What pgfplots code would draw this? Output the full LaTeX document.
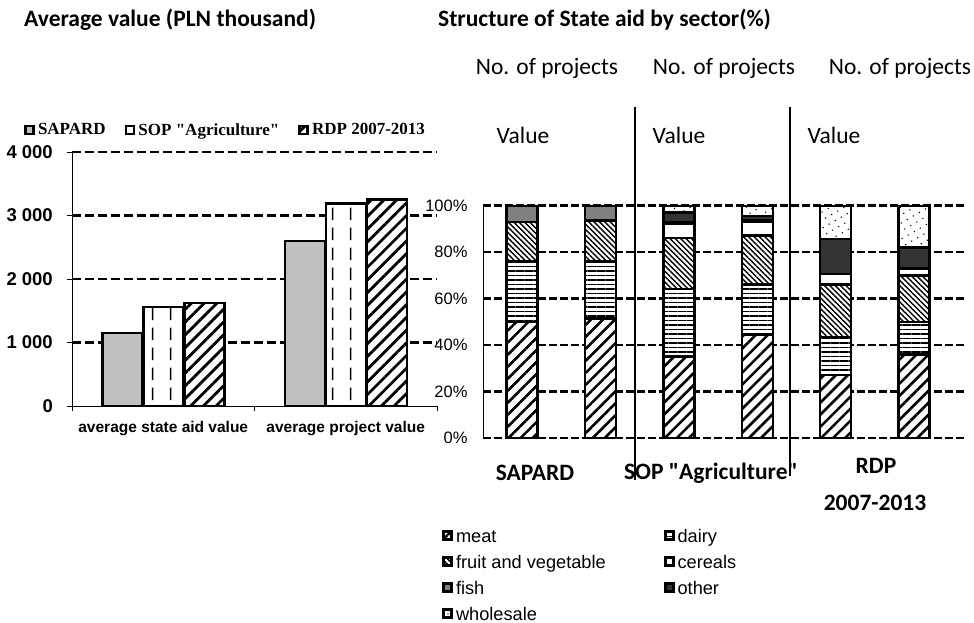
\documentclass[border=0pt]{standalone}
\usepackage{fontspec}
\setmainfont{Carlito}
\newfontfamily\arialf{Liberation Sans}
\newfontfamily\timesf{Liberation Serif}
\usepackage{pgfplots}
\usepackage{pgfplotstable}
\pgfplotsset{compat=1.18}
\usetikzlibrary{patterns,patterns.meta}

\tikzdeclarepattern{
  name=VDash,
  type=uncolored,
  bounding box={(0pt,0pt) and (18pt,20pt)},
  tile size={(18pt,20pt)},
  code={\draw[line width=1.6pt] (9pt,3pt) -- (9pt,16pt);}
}

\definecolor{sapgray}{RGB}{192,192,192}
\definecolor{fishgray}{RGB}{128,128,128}
\definecolor{othergray}{RGB}{51,51,51}

\pgfplotstableread{
x sapard sop rdp
0 1150 1560 1620
1 2600 3190 3250
}\avgtable

\pgfplotstableread{
x meat dairy fruit cereals fish other wholesale
0 50 26 17 0 7 0 0
1 51.5 24.5 17.5 0 6.5 0 0
2 35 29 22 6 1 4 3
3 44.5 21.5 21 6 0.5 2 4.5
4 27 16.5 22.5 4.5 0 15 14.5
5 36 14 20 3 0 9 18
}\sectortable

\newcommand{\ylab}[1]{{\arialf\bfseries\fontsize{18.5}{20}\selectfont #1}}

\begin{document}
\begin{tikzpicture}
\path[use as bounding box] (0pt,0pt) rectangle (974pt,-622pt);

% ---------- left chart ----------
\begin{axis}[
  at={(72pt,-406pt)}, anchor=south west, scale only axis,
  width=365pt, height=254pt,
  xmin=-0.5, xmax=1.5, ymin=0, ymax=4000,
  axis x line*=bottom, axis y line*=left,
  axis line style={-, line width=0.8pt},
  ybar, bar width=40pt,
  xtick={-0.5,0.5,1.5},
  x tick label as interval,
  xticklabels={average state aid value, average project value},
  x tick label style={font=\arialf\bfseries\fontsize{15.5}{18}\selectfont, yshift=-7pt},
  ytick={0,1000,2000,3000,4000},
  yticklabels={\ylab{0},\ylab{1 000},\ylab{2 000},\ylab{3 000},\ylab{4 000}},
  extra y ticks={1000,2000,3000,4000}, extra y tick labels={},
  extra y tick style={grid=major, major tick length=0pt},
  y tick label style={anchor=east, inner sep=0pt, xshift=-14pt},
  tick align=outside, major tick length=5pt,
  tick style={line width=0.8pt, black},
  major grid style={line width=2.3pt, dash pattern=on 9pt off 4pt, black},
  legend columns=3,
  legend cell align=left,
  legend style={at={(-0.1315,1.087)}, anchor=west, draw=none, fill=none,
    font=\timesf\bfseries\fontsize{17}{18}\selectfont, inner sep=0pt,
    nodes={inner sep=0pt},
    /tikz/every odd column/.append style={column sep=3pt},
    /tikz/every even column/.append style={column sep=19pt}},
  legend image code/.code={\draw[#1, line width=2.8pt] (0pt,-4pt) rectangle (8pt,4pt);},
]
\addplot[fill=sapgray, draw=black, line width=2.5pt, bar shift=-41pt]
  table[x=x, y=sapard]{\avgtable};
\addplot[preaction={fill=white}, pattern=VDash, draw=black, line width=2.5pt, bar shift=0pt]
  table[x=x, y=sop]{\avgtable};
\addplot[preaction={fill=white}, pattern={Lines[angle=45,distance=9pt,line width=2.8pt]}, draw=black, line width=2.5pt, bar shift=41pt]
  table[x=x, y=rdp]{\avgtable};
\legend{SAPARD, SOP "Agriculture", RDP 2007-2013}
\end{axis}

% ---------- right chart ----------
\begin{axis}[
  at={(483pt,-438pt)}, anchor=south west, scale only axis,
  width=482pt, height=232.5pt,
  xmin=-0.5, xmax=5.65, ymin=0, ymax=100,
  ybar stacked, bar width=31pt,
  axis x line=none, axis y line*=left,
  axis line style={-, line width=0.8pt},
  xtick=\empty,
  ytick={0,20,40,60,80,100},
  yticklabels={0\%,20\%,40\%,60\%,80\%,100\%},
  y tick label style={font=\arialf\fontsize{16.5}{18}\selectfont, xshift=-12pt},
  tick align=inside, major tick length=5pt,
  tick style={line width=0.8pt, black},
  ymajorgrids,
  major grid style={line width=2.2pt, dash pattern=on 8pt off 3pt, black},
  legend columns=2,
  legend cell align=left,
  legend style={at={(-0.085,-0.391)}, anchor=north west, draw=none, fill=none,
    font=\arialf\fontsize{18.2}{20}\selectfont, inner sep=0pt,
    nodes={inner sep=0pt, text height=13pt, text depth=1pt},
    row sep=12pt,
    /tikz/every odd column/.append style={column sep=3pt},
    /tikz/every even column/.append style={column sep=58pt}},
  legend image code/.code={\draw[#1, line width=2.8pt] (0pt,-3pt) rectangle (8pt,5pt);},
]
\addplot[preaction={fill=white}, pattern={Lines[angle=45,distance=8.5pt,line width=2.6pt]}, draw=black, line width=2.5pt]
  table[x=x, y=meat]{\sectortable};
\addplot[preaction={fill=white}, pattern={Lines[angle=0,distance=4.5pt,line width=1.6pt]}, draw=black, line width=2.5pt]
  table[x=x, y=dairy]{\sectortable};
\addplot[preaction={fill=white}, pattern={Lines[angle=-45,distance=3.8pt,line width=1.4pt]}, draw=black, line width=2.5pt]
  table[x=x, y=fruit]{\sectortable};
\addplot[fill=white, draw=black, line width=2.5pt]
  table[x=x, y=cereals]{\sectortable};
\addplot[fill=fishgray, draw=black, line width=2.5pt]
  table[x=x, y=fish]{\sectortable};
\addplot[fill=othergray, draw=black, line width=2.5pt]
  table[x=x, y=other]{\sectortable};
\addplot[preaction={fill=white}, pattern={Dots[angle=30,distance=7pt,radius=0.8pt]}, draw=black, line width=2.5pt]
  table[x=x, y=wholesale]{\sectortable};
\legend{meat, dairy, fruit and vegetable, cereals, fish, other, wholesale}
\end{axis}

% ---------- texts and separators ----------
\draw[line width=1.3pt] (635pt,-107pt) -- (635pt,-480pt);
\draw[line width=1.3pt] (790pt,-107pt) -- (790pt,-476pt);

\node[font=\bfseries\fontsize{23.5}{28}\selectfont, anchor=west, inner sep=0pt] at (24pt,-20pt) {Average value (PLN thousand)};
\node[font=\bfseries\fontsize{23.5}{28}\selectfont, anchor=west, inner sep=0pt] at (438pt,-20pt) {Structure of State aid by sector(\%)};

\foreach \xx in {547,724,900}
  \node[font=\fontsize{23.5}{28}\selectfont, inner sep=0pt] at (\xx pt,-68pt) {No. of projects};
\foreach \xx in {523,679,834}
  \node[font=\fontsize{23.5}{28}\selectfont, inner sep=0pt] at (\xx pt,-135pt) {Value};

\node[font=\bfseries\fontsize{23.5}{28}\selectfont, inner sep=0pt] at (535pt,-473pt) {SAPARD};
\node[font=\bfseries\fontsize{23.5}{28}\selectfont, inner sep=0pt] at (711pt,-473pt) {SOP \textquotedbl Agriculture\textquotedbl};
\node[font=\bfseries\fontsize{23.5}{28}\selectfont, inner sep=0pt] at (876pt,-466pt) {RDP};
\node[font=\bfseries\fontsize{23.5}{28}\selectfont, inner sep=0pt] at (875pt,-503pt) {2007-2013};
\end{tikzpicture}
\end{document}
